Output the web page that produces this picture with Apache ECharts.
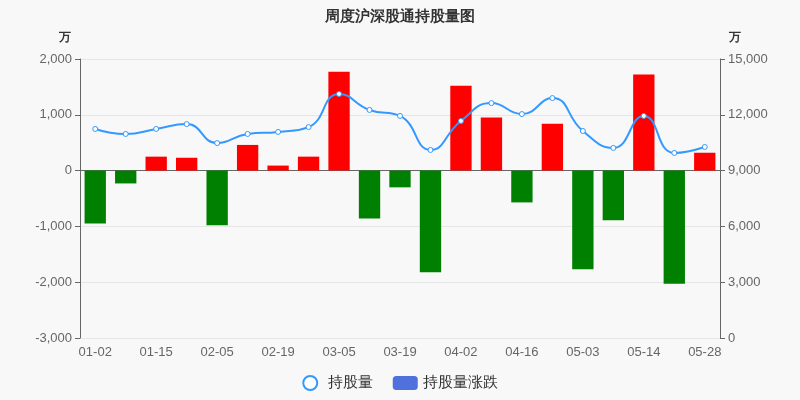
<!DOCTYPE html>
<html><head><meta charset="utf-8">
<script src="https://cdn.jsdelivr.net/npm/echarts@6/dist/echarts.min.js"></script>
<style>html,body{margin:0;background:#f8f8f8}#c{width:800px;height:400px}</style>
</head><body><div id="c"></div>
<script>
var dates = ['01-02','01-08','01-15','01-22','02-05','02-12','02-19','02-26','03-05','03-12','03-19','03-26','04-02','04-09','04-16','04-23','05-03','05-07','05-14','05-21','05-28'];
var changes = [-950,-230,250,230,-980,460,90,250,1770,-860,-300,-1820,1520,950,-570,840,-1770,-890,1720,-2030,320];
var holdings = [11240,10970,11240,11500,10480,10970,11080,11340,13120,12260,11940,10110,11670,12630,12040,12900,11130,10220,11940,9950,10270];

var myChart = echarts.init(document.getElementById('c'));
var axisText = { color: '#666', fontSize: 13 };
var option = {
  backgroundColor: '#f8f8f8',
  title: { text: '周度沪深股通持股量图', left: 'center', top: 4, textStyle: { fontSize: 15, color: '#333' } },
  legend: {
    bottom: 4, itemGap: 20, textStyle: { fontSize: 15, color: '#333' },
    data: [{ name: '持股量', icon: 'circle' }, '持股量涨跌']
  },
  grid: { left: 80, right: 80, top: 59, bottom: 62 },
  xAxis: {
    type: 'category', data: dates,
    axisLabel: { color: '#666', fontSize: 13, interval: 1 },
    axisLine: { lineStyle: { color: '#666' } },
    axisTick: { alignWithLabel: true }
  },
  yAxis: [{
    type: 'value', name: '万', min: -3000, max: 2000, interval: 1000,
    nameTextStyle: { color: '#333', fontWeight: 'bold', padding: [0, 30, 0, 0] },
    axisLabel: axisText,
    axisLine: { show: true, lineStyle: { color: '#666' } },
    axisTick: { show: true },
    splitLine: { lineStyle: { color: '#e6e6e6' } }
  }, {
    type: 'value', name: '万', min: 0, max: 15000, interval: 3000,
    nameTextStyle: { color: '#333', fontWeight: 'bold', padding: [0, 0, 0, 30] },
    axisLabel: axisText,
    axisLine: { show: true, lineStyle: { color: '#666' } },
    axisTick: { show: true },
    splitLine: { show: false }
  }],
  series: [{
    name: '持股量涨跌', type: 'bar', barWidth: '70%',
    itemStyle: { color: function (p) { return p.value >= 0 ? '#ff0000' : '#008000'; } },
    data: changes
  }, {
    name: '持股量', type: 'line', yAxisIndex: 1, smooth: true,
    symbol: 'circle', symbolSize: 5,
    itemStyle: { color: '#fff', borderColor: '#3399ff', borderWidth: 1 },
    lineStyle: { color: '#3399ff', width: 2 },
    data: holdings
  }]
};
myChart.setOption(option);
</script></body></html>
